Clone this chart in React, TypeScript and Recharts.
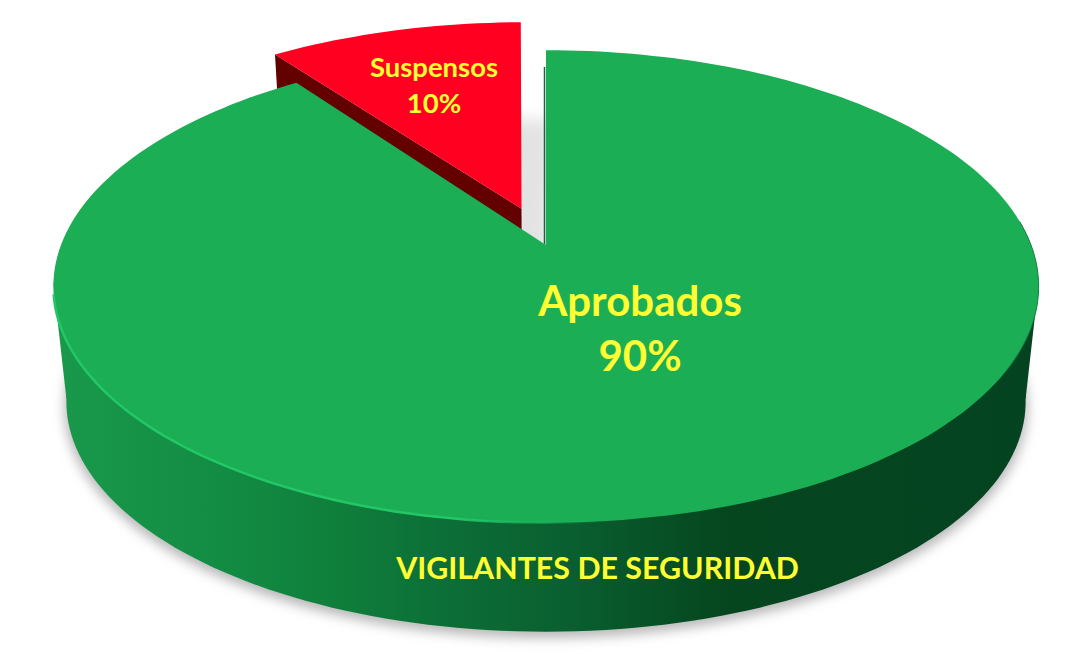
import React from 'react';
import { PieChart, Pie } from 'recharts';

const categories = ['Suspensos', 'Aprobados'];
const values = [10, 90];
const title = 'VIGILANTES DE SEGURIDAD';

const data = categories.map((name, i) => ({ name, value: values[i] }));

// perspective of the disc: tilt, height ratio, and where the walls converge
const TILT = 0.1755;
const SQUASH = 0.4722;
const WALL_SCALE = 0.9736;
const VANISH_Y = 4650;
const EXPLODE: Record<string, [number, number]> = { Suspensos: [-0.052, 0.163], Aprobados: [0, 0] };
const RED_TURN = 0.6;
const RED_GROW = 1.01;

type Pt = [number, number];

const project = (s: any, u: number, v: number, bottom = false): Pt => {
  const w = 1 + TILT * v;
  const x = s.cx + (s.outerRadius * u) / w;
  const y = s.cy - (s.outerRadius * SQUASH * v) / w;
  if (!bottom) return [x, y];
  return [s.cx + WALL_SCALE * (x - s.cx), VANISH_Y + WALL_SCALE * (y - VANISH_Y)];
};

const arc = (s: any, from: number, to: number, r = 1, off: number[] = [0, 0], bottom = false): Pt[] => {
  const pts: Pt[] = [];
  const n = Math.max(2, Math.ceil(Math.abs(to - from) / 1.5));
  for (let i = 0; i <= n; i++) {
    const a = ((from + ((to - from) * i) / n) * Math.PI) / 180;
    pts.push(project(s, off[0] + r * Math.cos(a), off[1] + r * Math.sin(a), bottom));
  }
  return pts;
};

const toPath = (pts: Pt[], close = true) =>
  'M' + pts.map((p) => `${p[0].toFixed(1)},${p[1].toFixed(1)}`).join('L') + (close ? 'Z' : '');

const extremes = (pts: Pt[]) => {
  let lo = pts[0];
  let hi = pts[0];
  pts.forEach((p) => {
    if (p[0] < lo[0]) lo = p;
    if (p[0] > hi[0]) hi = p;
  });
  return [lo, hi];
};

const PieSlice = (props: any) => {
  const { startAngle, endAngle, name } = props;
  const off = EXPLODE[name] || [0, 0];
  const apex = project(props, off[0], off[1]);

  if (name === 'Suspensos') {
    const top = arc(props, startAngle + RED_TURN, endAngle + RED_TURN, RED_GROW, off);
    const a = ((startAngle + RED_TURN) * Math.PI) / 180;
    const cornerLow = project(props, off[0] + RED_GROW * Math.cos(a), off[1] + RED_GROW * Math.sin(a), true);
    const apexLow = project(props, off[0], off[1], true);
    return (
      <g>
        {/* ground shadow, also what shows through the gap */}
        <path d={toPath(arc(props, 170, 370, 1.004, [0, 0], true))} transform="translate(0,5)" fill="#b8b8b8" filter="url(#soft)" />
        <path d={toPath([project(props, 0, 0, true), ...arc(props, 98, 89, 1.34, [0, 0], true)])} fill="#e3e3e3" filter="url(#soft2)" />
        <path d={toPath([apex, top[0], cornerLow, apexLow])} fill="#630000" />
        <path d={toPath([apex, ...top])} fill="#FF0020" />
      </g>
    );
  }

  const rim = arc(props, startAngle, endAngle);
  // only the front of the lower disc, the back must not show through the gap
  const rimLow = arc(props, 170, 370, 1, [0, 0], true);
  const [topL, topR] = extremes(arc(props, 170, 370));
  const [lowL, lowR] = extremes(rimLow);
  return (
    <g>
      <path d={toPath(rimLow)} fill="url(#wall)" />
      <path d={toPath([topL, topR, lowR, lowL])} fill="url(#wall)" />
      <path d={toPath([apex, project(props, 0, 0.9)], false)} transform="translate(-1.5,0)" stroke="#0b6b3c" strokeWidth={1.5} fill="none" />
      <path d={toPath([apex, ...rim])} fill="#1BAE55" />
      <path d={toPath(arc(props, 192, 288), false)} stroke="url(#bevel)" strokeWidth={2.5} fill="none" />
      <path d={toPath(arc(props, -30, 6), false)} stroke="#137F3F" strokeWidth={1} fill="none" />
    </g>
  );
};

const LABEL_STYLE: Record<string, { dx: number; y1: number; y2: number; size: number }> = {
  Aprobados: { dx: 94, y1: 71, y2: 126, size: 42 },
  Suspensos: { dx: -112, y1: -168, y2: -132, size: 27.5 },
};

const renderLabel = (p: any) => {
  const st = LABEL_STYLE[p.name];
  return (
    <g>
      <text textAnchor="middle" fontFamily="Lato" fontWeight={700} fontSize={st.size} fill="#FFFF33">
        <tspan x={p.cx + st.dx} y={p.cy + st.y1}>{p.name}</tspan>
        <tspan x={p.cx + st.dx} y={p.cy + st.y2}>{`${Math.round(p.percent * 100)}%`}</tspan>
      </text>
      {p.name === 'Aprobados' && (
        <text x={p.cx + 51.5} y={p.cy + 334} textAnchor="middle" fontFamily="Lato" fontWeight={700} fontSize={30.4} fill="#FFFF33">
          {title}
        </text>
      )}
    </g>
  );
};

export default function App() {
  return (
    <div style={{ position: 'absolute', left: 0, top: 0, width: 1086, height: 657, background: '#fff' }}>
      <PieChart width={1086} height={657} margin={{ top: 0, right: 0, bottom: 0, left: 0 }}>
        <defs>
          <linearGradient id="wall" gradientUnits="userSpaceOnUse" x1="55" y1="0" x2="1040" y2="0">
            <stop offset="0" stopColor="#19994B" />
            <stop offset="0.19" stopColor="#128A42" />
            <stop offset="0.29" stopColor="#0F7E3B" />
            <stop offset="0.39" stopColor="#0C6F37" />
            <stop offset="0.52" stopColor="#0A5F30" />
            <stop offset="0.68" stopColor="#05461F" />
            <stop offset="1" stopColor="#044320" />
          </linearGradient>
          <linearGradient id="bevel" gradientUnits="userSpaceOnUse" x1="55" y1="0" x2="700" y2="0">
            <stop offset="0" stopColor="#22C766" />
            <stop offset="0.62" stopColor="#22C766" />
            <stop offset="0.85" stopColor="#22C766" stopOpacity="0" />
          </linearGradient>
          <filter id="soft" x="-5%" y="-5%" width="110%" height="110%">
            <feGaussianBlur stdDeviation="6" />
          </filter>
          <filter id="soft2" x="-20%" y="-20%" width="140%" height="140%">
            <feGaussianBlur stdDeviation="8" />
          </filter>
        </defs>
        <Pie
          data={data}
          dataKey="value"
          nameKey="name"
          cx={546}
          cy={245}
          innerRadius={0}
          outerRadius={485}
          startAngle={126}
          endAngle={-234}
          stroke="none"
          shape={PieSlice}
          label={renderLabel}
          labelLine={false}
          isAnimationActive={false}
        />
      </PieChart>
    </div>
  );
}
